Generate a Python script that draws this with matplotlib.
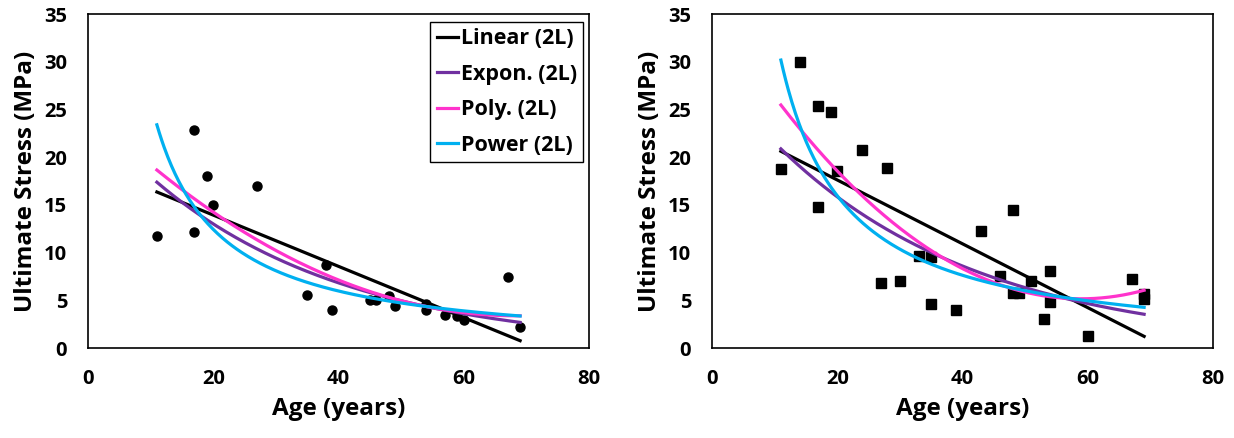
import numpy as np
import matplotlib
matplotlib.use("Agg")
import matplotlib.pyplot as plt

# Ages (years) and ultimate stress (MPa) for the two test groups
age_left = [11, 17, 17, 19, 20, 27, 35, 38, 39, 45, 46, 48, 49, 54, 54, 57, 59, 60, 67, 69]
stress_left = [11.7, 22.8, 12.2, 18.0, 15.0, 17.0, 5.6, 8.7, 4.0, 5.0, 5.0, 5.4, 4.4,
               4.6, 4.0, 3.5, 3.4, 2.9, 7.4, 2.2]

age_right = [11, 14, 17, 19, 17, 20, 24, 28, 27, 30, 33, 35, 35, 39, 43, 46, 48, 48,
             49, 51, 54, 54, 53, 60, 67, 69, 69]
stress_right = [18.8, 30.0, 25.4, 24.7, 14.8, 18.5, 20.8, 18.9, 6.8, 7.0, 9.6, 9.5, 4.6,
                4.0, 12.3, 7.5, 14.5, 5.8, 5.8, 7.0, 8.1, 4.8, 3.0, 1.3, 7.2, 5.7, 5.1]

trend_names = ["Linear (2L)", "Expon. (2L)", "Poly. (2L)", "Power (2L)"]
trend_colors = ["#000000", "#7030A0", "#FF33CC", "#00B0F0"]
x_ticks = [0, 20, 40, 60, 80]
y_ticks = [0, 5, 10, 15, 20, 25, 30, 35]

plt.rcParams["font.family"] = ["Open Sans", "DejaVu Sans"]
plt.rcParams["font.weight"] = "bold"


def trendlines(x, y):
    x = np.asarray(x, float)
    y = np.asarray(y, float)
    xs = np.linspace(x.min(), x.max(), 300)
    lin = np.polyval(np.polyfit(x, y, 1), xs)
    b, lna = np.polyfit(x, np.log(y), 1)
    expo = np.exp(lna) * np.exp(b * xs)
    poly = np.polyval(np.polyfit(x, y, 2), xs)
    p, lnc = np.polyfit(np.log(x), np.log(y), 1)
    power = np.exp(lnc) * xs ** p
    return xs, [lin, expo, poly, power]


fig = plt.figure(figsize=(12.34, 4.38), dpi=100)
ax1 = fig.add_axes([88 / 1234, 1 - 348 / 438, 501 / 1234, 334 / 438])
ax2 = fig.add_axes([712 / 1234, 1 - 348 / 438, 501 / 1234, 334 / 438])

for ax, x, y, marker, ms in [(ax1, age_left, stress_left, "o", 6.5),
                             (ax2, age_right, stress_right, "s", 7)]:
    ax.plot(x, y, linestyle="none", marker=marker, color="black", markersize=ms, zorder=2)
    xs, curves = trendlines(x, y)
    for curve, name, color in zip(curves, trend_names, trend_colors):
        ax.plot(xs, curve, color=color, lw=2.3, label=name, zorder=3)
    ax.set_xlim(0, 80)
    ax.set_ylim(0, 35)
    ax.set_xticks(x_ticks)
    ax.set_yticks(y_ticks)
    ax.tick_params(length=0, labelsize=14.5, pad=15)
    for lbl in ax.get_xticklabels() + ax.get_yticklabels():
        lbl.set_fontweight("bold")
    for s in ax.spines.values():
        s.set_linewidth(1.2)
        s.set_color("black")
    ax.set_xlabel("Age (years)", fontsize=17.5, fontweight="bold", labelpad=6)
    ax.set_ylabel("Ultimate Stress (MPa)", fontsize=17.5, fontweight="bold", labelpad=4)

leg = ax1.legend(loc="upper right", bbox_to_anchor=(0.997, 0.99), fancybox=False,
                 edgecolor="black", framealpha=1, handlelength=1.0, handletextpad=0.1,
                 borderpad=0.3, labelspacing=0.68, prop={"size": 15.5, "weight": "bold"},
                 borderaxespad=0.2)
leg.get_frame().set_linewidth(1.0)

fig.savefig("out.png", dpi=100)
